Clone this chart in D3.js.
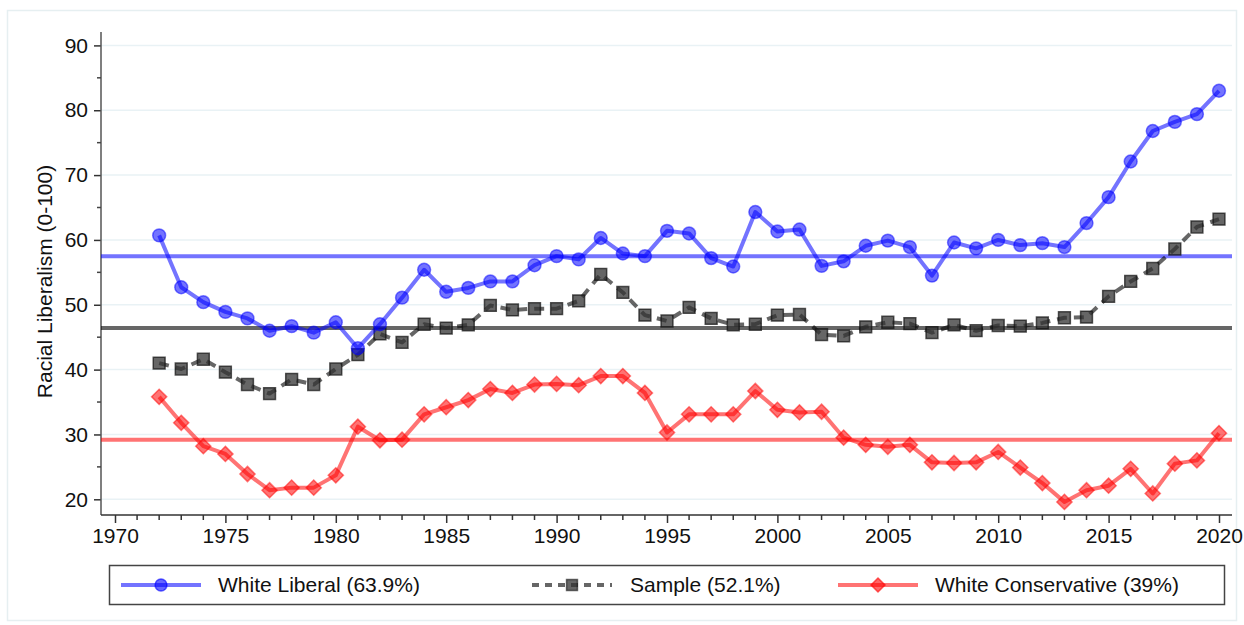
<!DOCTYPE html>
<html>
<head>
<meta charset="utf-8">
<script src="https://cdn.jsdelivr.net/npm/d3@7"></script>
<style>
  html, body { margin: 0; padding: 0; background: #fff; }
  svg { display: block; font-family: "Liberation Sans", Arial, Helvetica, sans-serif; }
</style>
</head>
<body>
<svg id="chart" width="1244" height="625"></svg>
<script>
// ---- data ----
const years = d3.range(1972, 2021);
const whiteLiberal = [60.7, 52.7, 50.4, 48.9, 47.9, 46.0, 46.7, 45.7, 47.3, 43.3,
  47.0, 51.1, 55.4, 52.0, 52.6, 53.6, 53.6, 56.1, 57.5, 57.0,
  60.3, 57.9, 57.5, 61.4, 61.0, 57.2, 55.9, 64.3, 61.3, 61.6,
  56.0, 56.7, 59.1, 59.9, 58.9, 54.5, 59.6, 58.7, 60.0, 59.2,
  59.5, 58.9, 62.6, 66.6, 72.1, 76.8, 78.2, 79.4, 83.0];
const sample = [41.0, 40.1, 41.6, 39.6, 37.7, 36.3, 38.5, 37.7, 40.1, 42.3,
  45.5, 44.2, 47.0, 46.4, 46.9, 49.9, 49.2, 49.4, 49.4, 50.6,
  54.7, 51.9, 48.4, 47.5, 49.6, 47.9, 46.9, 47.0, 48.4, 48.5,
  45.4, 45.2, 46.6, 47.3, 47.1, 45.7, 46.9, 46.0, 46.8, 46.7,
  47.2, 48.0, 48.1, 51.3, 53.6, 55.6, 58.6, 62.0, 63.2];
const whiteConservative = [35.8, 31.8, 28.2, 27.0, 23.9, 21.4, 21.8, 21.8, 23.7, 31.2,
  29.1, 29.2, 33.1, 34.2, 35.3, 37.0, 36.4, 37.7, 37.8, 37.6,
  39.0, 39.0, 36.4, 30.3, 33.1, 33.1, 33.1, 36.7, 33.8, 33.4,
  33.5, 29.5, 28.4, 28.1, 28.4, 25.7, 25.6, 25.7, 27.3, 24.9,
  22.5, 19.6, 21.4, 22.1, 24.7, 20.9, 25.5, 26.0, 30.2];
const seriesNames = ["White Liberal (63.9%)", "Sample (52.1%)", "White Conservative (39%)"];
const meanLines = [57.5, 46.4, 29.2];
const yTicks = [20, 30, 40, 50, 60, 70, 80, 90];
const xTicks = [1970, 1975, 1980, 1985, 1990, 1995, 2000, 2005, 2010, 2015, 2020];
const yTitle = "Racial Liberalism (0-100)";

// ---- layout ----
const svg = d3.select("#chart");
const plotL = 101, plotR = 1232, plotT = 32, plotB = 515;
const FS = 21;

const x = d3.scaleLinear().domain([1970, 2020]).range([115, 1219]);
const y = d3.scaleLinear().domain([20, 90]).range([499.3, 45.4]);

// outer frame
svg.append("rect").attr("x", 7.5).attr("y", 10.5).attr("width", 1229).attr("height", 610)
  .attr("fill", "none").attr("stroke", "#e6eff1").attr("stroke-width", 1.5);

// gridlines
svg.append("g").selectAll("line").data(yTicks).join("line")
  .attr("x1", plotL).attr("x2", plotR)
  .attr("y1", d => y(d)).attr("y2", d => y(d))
  .attr("stroke", "#e9f2f5").attr("stroke-width", 1.5);

// y axis
const yAxis = d3.axisLeft(y).tickValues(yTicks).tickSize(7).tickPadding(6).tickSizeOuter(0);
const gy = svg.append("g").attr("transform", `translate(${plotL},0)`).call(yAxis);
gy.select(".domain").remove();
gy.append("line").attr("x1", 0).attr("x2", 0).attr("y1", plotT).attr("y2", plotB)
  .attr("stroke", "#555").attr("stroke-width", 1.5);
gy.selectAll(".tick line").attr("stroke", "#333").attr("stroke-width", 1.5);
gy.selectAll(".tick text").attr("font-size", FS).attr("fill", "#111")
  .attr("font-family", "Liberation Sans, Arial, sans-serif");
// minor y ticks
const yMinor = d3.range(25, 90, 10);
gy.append("g").selectAll("line").data(yMinor).join("line")
  .attr("x1", -4).attr("x2", 0).attr("y1", d => y(d)).attr("y2", d => y(d))
  .attr("stroke", "#444").attr("stroke-width", 1.5);

// x axis
const xAxis = d3.axisBottom(x).tickValues(xTicks).tickFormat(d3.format("d"))
  .tickSize(8).tickPadding(5).tickSizeOuter(0);
const gx = svg.append("g").attr("transform", `translate(0,${plotB})`).call(xAxis);
gx.select(".domain").remove();
gx.append("line").attr("x1", plotL).attr("x2", plotR).attr("y1", 0).attr("y2", 0)
  .attr("stroke", "#333").attr("stroke-width", 1.5);
gx.selectAll(".tick line").attr("stroke", "#333").attr("stroke-width", 1.5);
gx.selectAll(".tick text").attr("font-size", FS).attr("fill", "#111")
  .attr("font-family", "Liberation Sans, Arial, sans-serif");
const xMinor = d3.range(1971, 2021).filter(v => v % 5 !== 0);
gx.append("g").selectAll("line").data(xMinor).join("line")
  .attr("x1", d => x(d)).attr("x2", d => x(d)).attr("y1", 0).attr("y2", 5)
  .attr("stroke", "#333").attr("stroke-width", 1.5);

// y title
svg.append("text").attr("transform", `translate(52,${(plotT + plotB) / 2 + 8}) rotate(-90)`)
  .attr("text-anchor", "middle").attr("font-size", FS).attr("fill", "#111").text(yTitle);

// mean reference lines
const colors = ["#0000ff", "#000000", "#ff0000"];
svg.append("g").selectAll("line").data(meanLines).join("line")
  .attr("x1", plotL).attr("x2", plotR)
  .attr("y1", d => y(d)).attr("y2", d => y(d))
  .attr("stroke", (d, i) => colors[i]).attr("stroke-opacity", (d, i) => i === 1 ? 0.6 : 0.55)
  .attr("stroke-width", 4);

const line = d3.line().x(d => x(d[0])).y(d => y(d[1]));
const datasets = [whiteLiberal, sample, whiteConservative].map(arr => years.map((yr, i) => [yr, arr[i]]));

const symbols = [d3.symbolCircle, d3.symbolSquare, d3.symbolSquare];
const symSizes = [130, 140, 115];
const rot = [0, 0, 45];

function drawSeries(idx) {
  const g = svg.append("g");
  g.append("path").datum(datasets[idx]).attr("d", line)
    .attr("fill", "none").attr("stroke", colors[idx])
    .attr("stroke-opacity", idx === 1 ? 0.6 : 0.55)
    .attr("stroke-width", 4)
    .attr("stroke-dasharray", idx === 1 ? "10,7" : null)
    .attr("stroke-linejoin", "round");
  const sym = d3.symbol().type(symbols[idx]).size(symSizes[idx]);
  g.selectAll("path.m").data(datasets[idx]).join("path").attr("class", "m")
    .attr("transform", d => `translate(${x(d[0])},${y(d[1])}) rotate(${rot[idx]})`)
    .attr("d", sym)
    .attr("fill", idx === 1 ? "#333" : colors[idx])
    .attr("fill-opacity", idx === 1 ? 0.75 : 0.55)
    .attr("stroke", idx === 1 ? "#111" : colors[idx])
    .attr("stroke-opacity", idx === 1 ? 0.7 : 0.5)
    .attr("stroke-width", 1.5);
}
drawSeries(1);
drawSeries(0);
drawSeries(2);

// legend
const lg = svg.append("g");
lg.append("rect").attr("x", 109.5).attr("y", 565.5).attr("width", 1115).attr("height", 39)
  .attr("fill", "#fff").attr("stroke", "#444").attr("stroke-width", 1.5);
const legX = [121, 532, 838];
const legTextX = [218, 630, 935];
const legY = 585;
seriesNames.forEach((name, i) => {
  lg.append("line").attr("x1", legX[i]).attr("x2", legX[i] + 80)
    .attr("y1", legY).attr("y2", legY)
    .attr("stroke", colors[i]).attr("stroke-opacity", i === 1 ? 0.6 : 0.55)
    .attr("stroke-width", 4)
    .attr("stroke-dasharray", i === 1 ? "7,6" : null);
  lg.append("path").attr("transform", `translate(${legX[i] + 40},${legY}) rotate(${rot[i]})`)
    .attr("d", d3.symbol().type(symbols[i]).size(symSizes[i] * 0.85)())
    .attr("fill", i === 1 ? "#333" : colors[i])
    .attr("fill-opacity", i === 1 ? 0.75 : 0.6)
    .attr("stroke", i === 1 ? "#111" : colors[i])
    .attr("stroke-opacity", 0.6).attr("stroke-width", 1.5);
  lg.append("text").attr("x", legTextX[i]).attr("y", legY).attr("dy", "0.35em")
    .attr("font-size", FS).attr("fill", "#111").text(name);
});
</script>
</body>
</html>
